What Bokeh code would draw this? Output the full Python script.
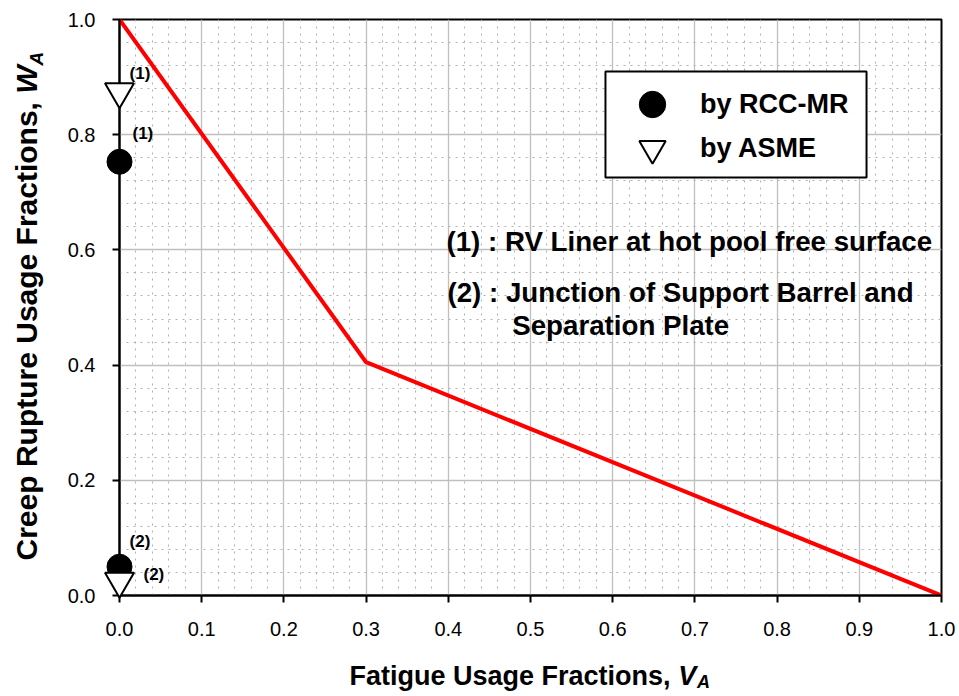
import numpy as np
from bokeh.plotting import figure
from bokeh.models import (Range1d, FixedTicker, PrintfTickFormatter, Legend, LegendItem, BoxAnnotation)
from bokeh.core.properties import value
from bokeh.embed import file_html
from bokeh.resources import INLINE

# ---- data ----
limit_x = [0.0, 0.3, 1.0]
limit_y = [1.0, 0.405, 0.0]
rcc_x = [0.0, 0.0]
rcc_y = [0.753, 0.05]
asme_x = [0.0, 0.0]
asme_y = [0.875, 0.025]
point_tags_rcc = ["(1)", "(2)"]
point_tags_asme = ["(1)", "(2)"]
x_ticks = [0.0, 0.1, 0.2, 0.3, 0.4, 0.5, 0.6, 0.7, 0.8, 0.9, 1.0]
y_ticks = [0.0, 0.2, 0.4, 0.6, 0.8, 1.0]
legend_labels = ["by RCC-MR", "by ASME"]
notes = ["(1) : RV Liner at hot pool free surface",
         "(2) : Junction of Support Barrel and",
         "Separation Plate"]

FONT = "Liberation Sans"

x_minor = [round(v, 3) for v in np.arange(0, 1.0001, 0.02) if min(abs(v - t) for t in x_ticks) > 1e-6]
y_minor = [round(v, 3) for v in np.arange(0, 1.0001, 0.04) if min(abs(v - t) for t in y_ticks) > 1e-6]

p = figure(width=959, height=696, output_backend="svg", toolbar_location=None,
           x_range=Range1d(0, 1), y_range=Range1d(0, 1),
           min_border_left=119, min_border_right=18, min_border_top=19, min_border_bottom=101)
p.background_fill_color = "white"
p.border_fill_color = "white"
p.outline_line_color = "black"
p.outline_line_width = 2

p.xaxis.ticker = FixedTicker(ticks=x_ticks, minor_ticks=x_minor)
p.yaxis.ticker = FixedTicker(ticks=y_ticks, minor_ticks=y_minor)
for ax in (p.xaxis, p.yaxis):
    ax.formatter = PrintfTickFormatter(format="%.1f")
    ax.axis_line_color = "black"
    ax.axis_line_width = 2
    ax.major_tick_line_color = "black"
    ax.major_tick_line_width = 2
    ax.major_tick_out = 7
    ax.major_tick_in = 0
    ax.minor_tick_line_color = None
    ax.major_label_text_font = FONT
    ax.major_label_text_font_size = "20px"
    ax.major_label_text_color = "black"
p.xaxis.major_label_standoff = 19
p.yaxis.major_label_standoff = 17

for g in (p.xgrid, p.ygrid):
    g.grid_line_color = "#bfbfbf"
    g.grid_line_width = 1.3
    g.minor_grid_line_color = "#b0b0b0"
    g.minor_grid_line_width = 1
    g.minor_grid_line_dash = "2 5"

# legend frame
p.add_layout(BoxAnnotation(left=0.5912, right=0.9088, bottom=0.7257, top=0.9097,
                           fill_color="white", fill_alpha=1, line_color="black",
                           line_width=2, line_alpha=1))

p.line(limit_x, limit_y, line_color="red", line_width=4)
r_rcc = p.scatter(rcc_x, rcc_y, marker="circle", size=25, fill_color="black",
                  line_color="black", level="overlay")
r_asme = p.scatter(asme_x, asme_y, marker="inverted_triangle", size=29, fill_color="white",
                   line_color="black", line_width=2, level="overlay")


def txt(x, y, s, size, style="bold", angle=0.0):
    p.text(x=[x], y=[y], text=[s], angle=angle, text_font=value(FONT), text_font_size=size,
           text_font_style=style, text_color="black", text_align="left",
           text_baseline="middle", level="overlay")


# point tags
for tx, ty, t in [(0.0122, 0.907, point_tags_asme[0]), (0.0158, 0.802, point_tags_rcc[0]),
                  (0.0122, 0.094, point_tags_rcc[1]), (0.0292, 0.036, point_tags_asme[1])]:
    txt(tx, ty, t, "17px")

# notes
for (nx, ny), t in zip([(0.3978, 0.6146), (0.3990, 0.526), (0.4778, 0.468)], notes):
    txt(nx, ny, t, "27.7px")

# x axis title
txt(0.2798, -0.1406, "Fatigue Usage Fractions, ", "27px")
txt(0.6796, -0.1406, "V", "27px", style="bold italic")
txt(0.7027, -0.1504, "A", "18px", style="bold italic")

# y axis title (rotated)
txt(-0.113, 0.0608, "Creep Rupture Usage Fractions, ", "30px", angle=np.pi / 2)
txt(-0.113, 0.8712, "W", "30px", style="bold italic", angle=np.pi / 2)
txt(-0.1007, 0.9203, "A", "19px", style="bold italic", angle=np.pi / 2)

common = dict(padding=0, glyph_width=90, glyph_height=66, label_standoff=3, margin=0,
              label_text_font=FONT, label_text_font_size="27px", label_text_font_style="bold",
              label_text_color="black", border_line_color=None, background_fill_alpha=0)
leg1 = Legend(items=[LegendItem(label=legend_labels[0], renderers=[r_rcc])],
              location=(488, 458), **common)
leg2 = Legend(items=[LegendItem(label=legend_labels[1], renderers=[r_asme])],
              location=(488, 414), **common)
p.add_layout(leg1)
p.add_layout(leg2)

open("out.html", "w").write(file_html(p, INLINE))
